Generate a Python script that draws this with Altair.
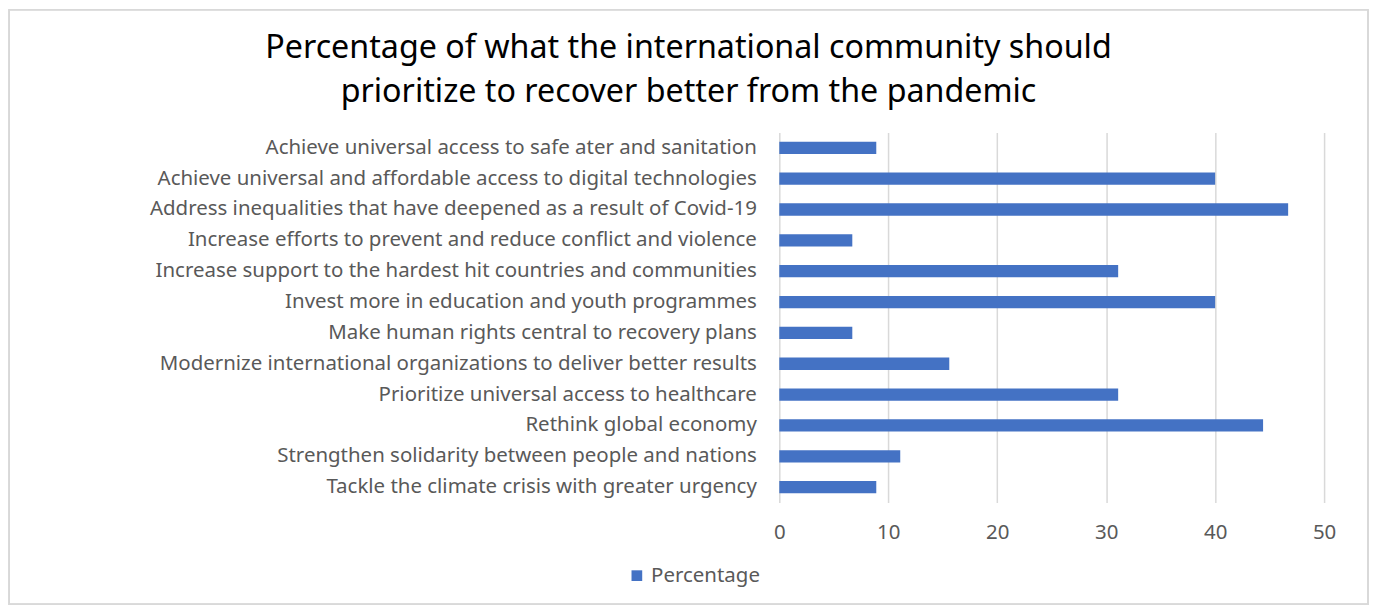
import altair as alt
import pandas as pd

categories = [
    "Achieve universal access to safe ater and sanitation",
    "Achieve universal and affordable access to digital technologies",
    "Address inequalities that have deepened as a result of Covid-19",
    "Increase efforts to prevent and reduce conflict and violence",
    "Increase support to the hardest hit countries and communities",
    "Invest more in education and youth programmes",
    "Make human rights central to recovery plans ",
    "Modernize international organizations to deliver better results",
    "Prioritize universal access to healthcare",
    "Rethink global economy",
    "Strengthen solidarity between people and nations",
    "Tackle the climate crisis with greater urgency",
]
values = [8.9, 40.0, 46.7, 6.7, 31.1, 40.0, 6.7, 15.6, 31.1, 44.4, 11.1, 8.9]
series_name = "Percentage"
x_ticks = [0, 10, 20, 30, 40, 50]
title_lines = ["Percentage of what the international community should",
               "prioritize to recover better from the pandemic"]

df = pd.DataFrame({"Category": categories, "Value": values, "Series": series_name})

W, H = 546, 371
PL, PT, PR, PB = 773, 124, 45, 103
FONT = "Noto Sans"
FS = 20.5

bars = alt.Chart(df).mark_bar(color="#4472C4").encode(
    y=alt.Y(
        "Category:N",
        sort=None,
        title=None,
        scale=alt.Scale(paddingInner=0.6, paddingOuter=0.3),
        axis=alt.Axis(
            domain=False, ticks=False, labelPadding=23, labelFontSize=FS,
            labelColor="#595959", labelFont=FONT, labelLimit=800, grid=False,
        ),
    ),
    x=alt.X(
        "Value:Q",
        title=None,
        scale=alt.Scale(domain=[0, 50], nice=False),
        axis=alt.Axis(
            values=x_ticks, domain=False, ticks=False, labelPadding=20,
            labelFontSize=FS, labelColor="#595959", labelFont=FONT,
            gridColor="#d9d9d9", gridWidth=1.5, labelFlush=False,
        ),
    ),
    color=alt.Color(
        "Series:N",
        scale=alt.Scale(range=["#4472C4"]),
        legend=alt.Legend(
            title=None, orient="none", legendX=-153, legendY=434,
            symbolType="square", symbolSize=115, symbolStrokeWidth=0,
            labelFontSize=FS, labelColor="#595959", labelFont=FONT,
            symbolOffset=0, labelOffset=4,
        ),
    ),
)

border = alt.Chart(df).mark_rect(fill=None, stroke="#d9d9d9", strokeWidth=1).encode(
    x=alt.value(-PL + 1), x2=alt.value(W + PR - 1),
    y=alt.value(-PT + 1), y2=alt.value(H + PB - 1),
)

t1 = alt.Chart(pd.DataFrame({"t": [title_lines[0]]})).mark_text(
    fontSize=32.3, font=FONT, color="#000000", align="center", baseline="middle"
).encode(text="t:N", x=alt.value(-91), y=alt.value(-85))
t2 = alt.Chart(pd.DataFrame({"t": [title_lines[1]]})).mark_text(
    fontSize=32.3, font=FONT, color="#000000", align="center", baseline="middle"
).encode(text="t:N", x=alt.value(-91), y=alt.value(-40))

chart = alt.layer(bars, border, t1, t2).properties(
    width=W,
    height=H,
    padding={"left": PL, "top": PT, "right": PR, "bottom": PB},
    autosize=alt.AutoSizeParams(type="none"),
).configure_view(stroke=None)

chart.save("out.html", embed_options={"renderer": "svg", "actions": False})
